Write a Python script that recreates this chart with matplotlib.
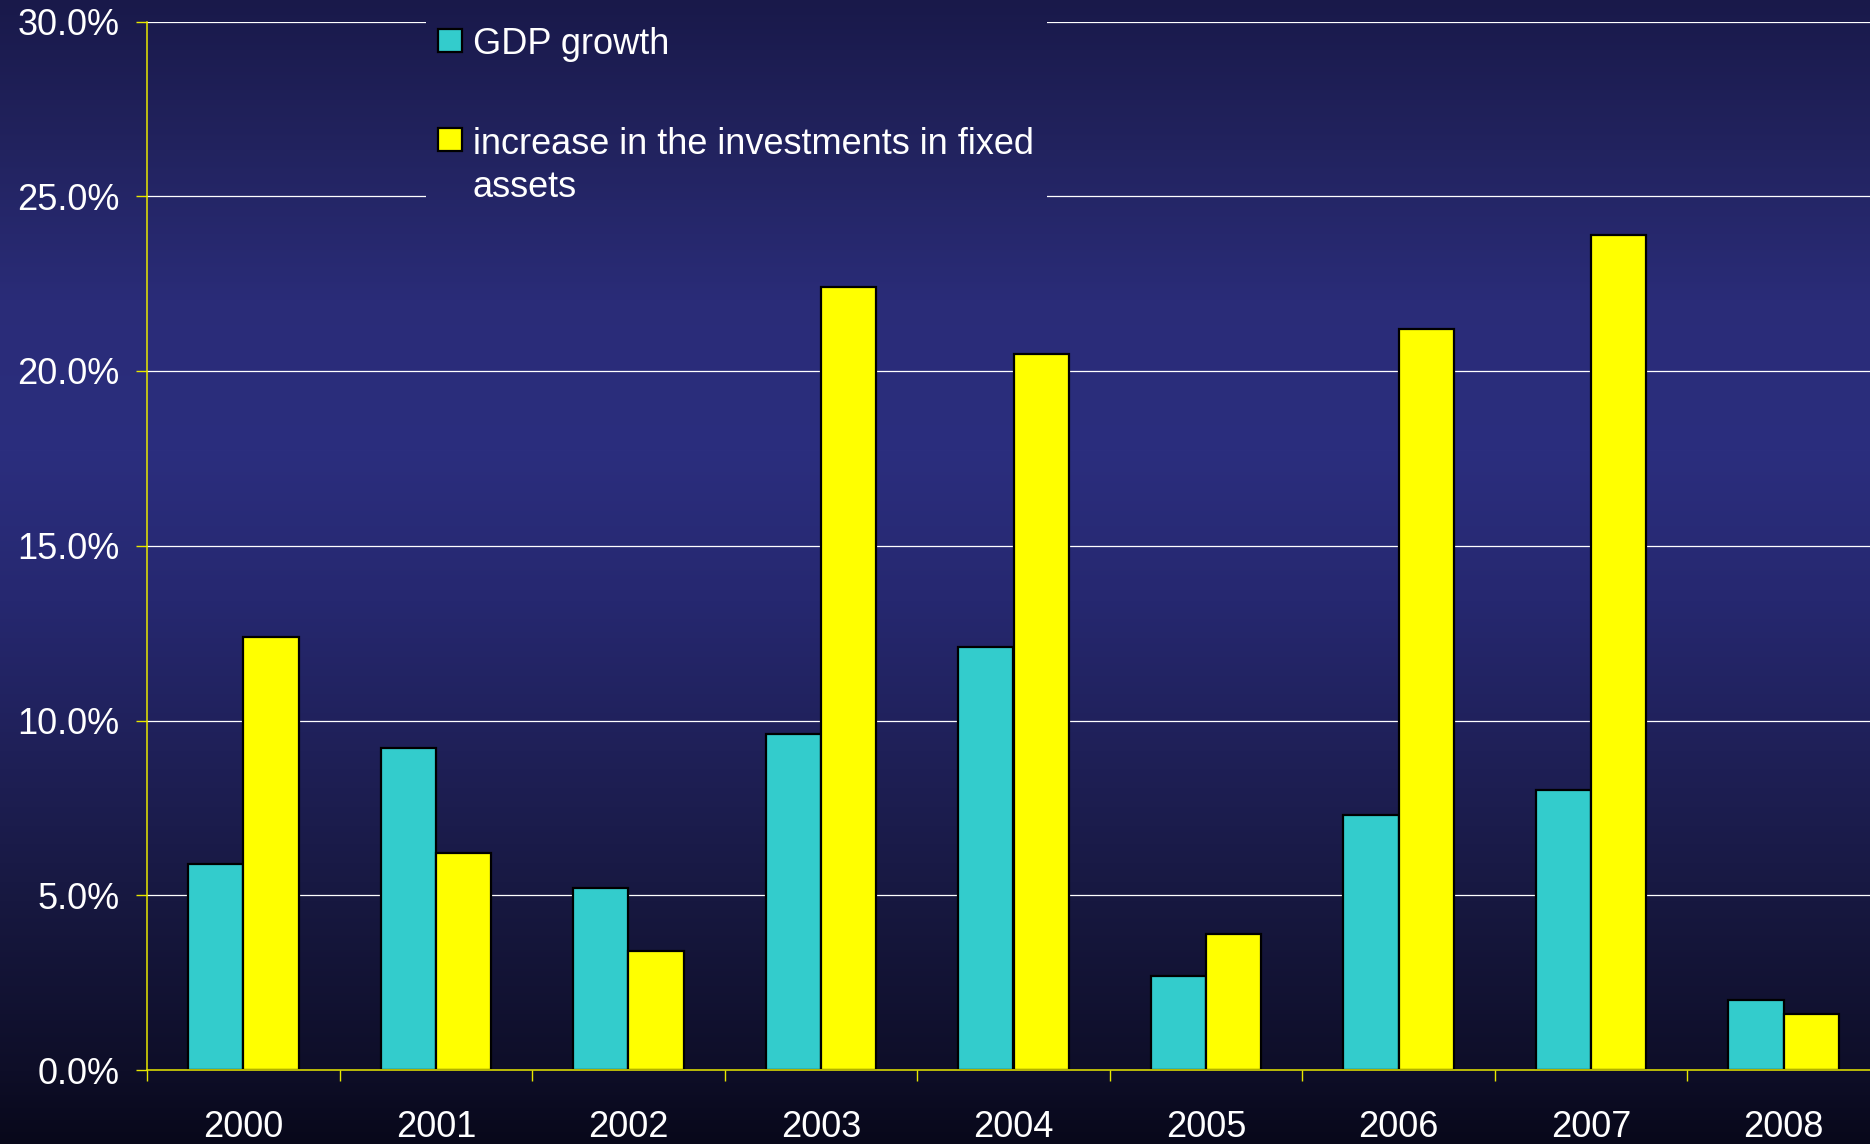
#==============================================================================
# load libraries
#==============================================================================
import numpy as np
import matplotlib.pyplot as plt
from matplotlib.patches import Rectangle
from matplotlib.colors import to_rgb

#==============================================================================
# data
#==============================================================================
years = ['2000', '2001', '2002', '2003', '2004', '2005', '2006', '2007', '2008']
gdp_growth = [5.9, 9.2, 5.2, 9.6, 12.1, 2.7, 7.3, 8.0, 2.0]
invest_growth = [12.4, 6.2, 3.4, 22.4, 20.5, 3.9, 21.2, 23.9, 1.6]
series_names = ['GDP growth', 'increase in the investments in fixed\nassets']
yticks = [0, 5, 10, 15, 20, 25, 30]

#==============================================================================
# style
#==============================================================================
W, H = 1870, 1144
plt.rcParams['font.family'] = ['Liberation Sans', 'DejaVu Sans']
FS = 26
TEAL = '#33CCCC'
YELLOW = '#FFFF00'
AXIS_YELLOW = '#E8E800'

# vertical background gradient (pixel row -> colour)
stop_y = [0, 150, 300, 450, 600, 750, 900, 1070, 1144]
stop_c = ['#19194a', '#22235f', '#2a2c78', '#2b2e7e', '#262870',
          '#1f2058', '#171840', '#0e0e28', '#08081a']
stop_rgb = np.array([to_rgb(c) for c in stop_c])


def gradient(y0, y1):
    rows = np.arange(y0, y1)
    img = np.stack([np.interp(rows, stop_y, stop_rgb[:, k]) for k in range(3)], axis=-1)
    return img[:, None, :]


fig = plt.figure(figsize=(W / 100, H / 100), dpi=100)

# background
bg = fig.add_axes([0, 0, 1, 1], zorder=0)
bg.imshow(gradient(0, H), aspect='auto', extent=[0, 1, 0, 1])
bg.set_axis_off()

#==============================================================================
# main chart
#==============================================================================
x0, x1, ytop, ybot = 147, 1880, 21.5, 1070
ax = fig.add_axes([x0 / W, (H - ybot) / H, (x1 - x0) / W, (ybot - ytop) / H], zorder=1)
ax.set_facecolor('none')

x = np.arange(len(years))
w = 0.287
ax.bar(x - w / 2, gdp_growth, w, color=TEAL, edgecolor='black', linewidth=1.6, zorder=3)
ax.bar(x + w / 2, invest_growth, w, color=YELLOW, edgecolor='black', linewidth=1.6, zorder=3)

ax.set_xlim(-0.5, len(years) - 0.5)
ax.set_ylim(0, 30)

for v in yticks[1:]:
    ax.axhline(v, color='white', linewidth=0.9, zorder=1)

ax.set_yticks(yticks)
ax.set_yticklabels([f'{v:.1f}%' for v in yticks])
ax.set_xticks(x)
ax.set_xticklabels(years)
ax.set_xticks(np.arange(len(years) + 1) - 0.5, minor=True)

ax.tick_params(axis='y', direction='out', length=8, width=1.0, color=AXIS_YELLOW,
               labelcolor='white', labelsize=FS, pad=12)
ax.tick_params(axis='x', which='major', length=0, labelcolor='white', labelsize=FS, pad=29)
ax.tick_params(axis='x', which='minor', direction='out', length=8, width=1.0, color=AXIS_YELLOW)

for side in ['top', 'right']:
    ax.spines[side].set_visible(False)
for side in ['left', 'bottom']:
    ax.spines[side].set_color(AXIS_YELLOW)
    ax.spines[side].set_linewidth(1.1)
ax.spines['bottom'].set_zorder(4)

#==============================================================================
# legend (drawn on its own panel so it hides the gridlines behind it)
#==============================================================================
lx0, lx1, ly0, ly1 = 426, 1047, 0, 205
lg = fig.add_axes([lx0 / W, (H - ly1) / H, (lx1 - lx0) / W, (ly1 - ly0) / H], zorder=2)
lg.imshow(gradient(ly0, ly1), aspect='auto', extent=[0, lx1 - lx0, ly1 - ly0, 0])
lg.set_xlim(0, lx1 - lx0)
lg.set_ylim(ly1 - ly0, 0)
lg.set_axis_off()

# markers
for col, yc in zip([TEAL, YELLOW], [40.5, 139.5]):
    lg.add_patch(Rectangle((12, yc - 11.5), 24, 23, facecolor=col, edgecolor='black', linewidth=1.6))

# labels
lg.text(47, 44, series_names[0], color='white', fontsize=FS, va='center', ha='left')
lg.text(47, 127, series_names[1], color='white', fontsize=FS, va='top', ha='left', linespacing=1.3)

#----------------------------------------------------------
# save the figure
#----------------------------------------------------------
fig.savefig('out.png', dpi=100)
